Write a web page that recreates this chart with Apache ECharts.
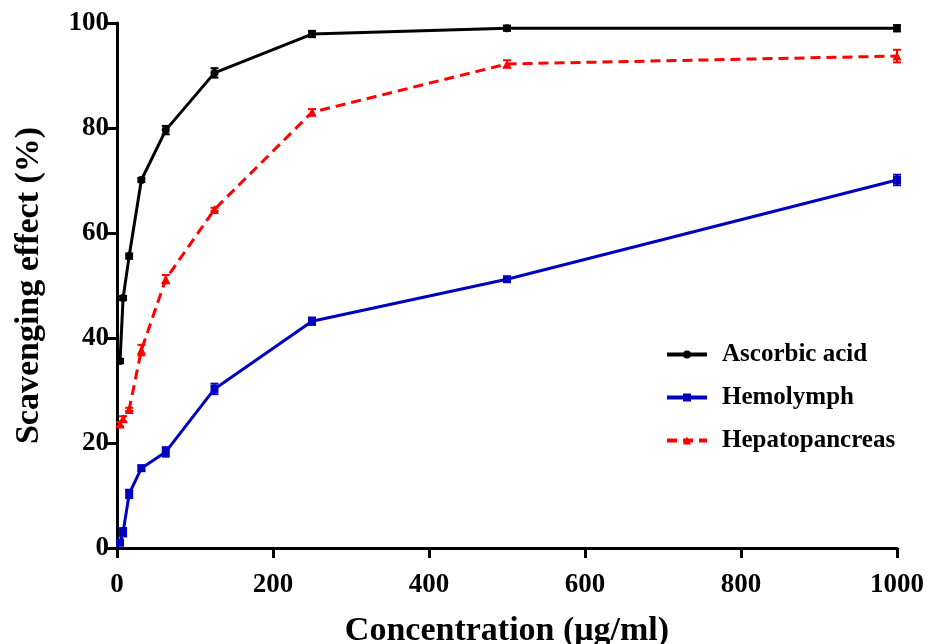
<!DOCTYPE html>
<html>
<head>
<meta charset="utf-8">
<script src="https://cdn.jsdelivr.net/npm/echarts@6/dist/echarts.min.js"></script>
<style>
  html, body { margin: 0; padding: 0; background: #fff; }
  #main { width: 927px; height: 644px; }
</style>
</head>
<body>
<div id="main"></div>
<script>
// concentrations (µg/ml)
var conc = [3.9, 7.8, 15.6, 31.25, 62.5, 125, 250, 500, 1000];
// scavenging effect (%) and SD
var ascorbic = [35.6, 47.6, 55.6, 70.1, 79.6, 90.5, 97.9, 99.0, 99.0];
var ascorbicErr = [0.4, 0.4, 0.5, 0.4, 0.8, 0.9, 0.6, 0.5, 0.6];
var hemolymph = [1.0, 3.0, 10.3, 15.2, 18.3, 30.3, 43.2, 51.2, 70.1];
var hemolymphErr = [0.4, 0.8, 0.8, 0.5, 0.9, 1.0, 0.7, 0.4, 1.0];
var hepato = [23.6, 24.6, 26.4, 37.7, 51.2, 64.5, 83.0, 92.2, 93.7];
var hepatoErr = [0.4, 0.5, 0.3, 1.0, 0.8, 0.3, 0.6, 0.7, 1.2];

var FONT = '"Liberation Serif", "DejaVu Serif", serif';

function pairs(ys) {
  return conc.map(function (x, i) { return [x, ys[i]]; });
}
function errData(ys, es) {
  return conc.map(function (x, i) { return [x, ys[i] - es[i], ys[i] + es[i]]; });
}
// error bar drawn through the axes
function errSeries(ys, es, color) {
  return {
    type: 'custom',
    silent: true,
    z: 3,
    data: errData(ys, es),
    renderItem: function (params, api) {
      var lo = api.coord([api.value(0), api.value(1)]);
      var hi = api.coord([api.value(0), api.value(2)]);
      var w = 4;
      var st = { stroke: color, lineWidth: 2 };
      return {
        type: 'group',
        children: [
          { type: 'line', shape: { x1: lo[0], y1: lo[1], x2: hi[0], y2: hi[1] }, style: st },
          { type: 'line', shape: { x1: lo[0] - w, y1: lo[1], x2: lo[0] + w, y2: lo[1] }, style: st },
          { type: 'line', shape: { x1: hi[0] - w, y1: hi[1], x2: hi[0] + w, y2: hi[1] }, style: st }
        ]
      };
    }
  };
}

var chart = echarts.init(document.getElementById('main'));

var option = {
  animation: false,
  backgroundColor: '#fff',
  grid: { left: 117, right: 30, top: 23, bottom: 96, outerBoundsMode: 'none' },
  legend: {
    orient: 'vertical',
    left: 660,
    top: 337,
    itemGap: 18,
    itemWidth: 40,
    itemHeight: 10,
    lineStyle: { width: 4 },
    textStyle: { fontFamily: FONT, fontWeight: 'bold', fontSize: 25, color: '#000', padding: [0, 0, 0, 10] },
    data: ['Ascorbic acid', 'Hemolymph', 'Hepatopancreas']
  },
  xAxis: {
    type: 'value',
    min: 0,
    max: 1000,
    interval: 200,
    name: 'Concentration (μg/ml)',
    nameLocation: 'middle',
    nameGap: 66,
    nameTextStyle: { fontFamily: FONT, fontWeight: 'bold', fontSize: 34, color: '#000' },
    axisLine: { lineStyle: { color: '#000', width: 3 } },
    axisTick: { length: 10, lineStyle: { color: '#000', width: 3 } },
    axisLabel: {
      fontFamily: FONT, fontWeight: 'bold', fontSize: 27, color: '#000', margin: 24,
      formatter: function (v) { return String(v); }
    },
    splitLine: { show: false }
  },
  yAxis: {
    type: 'value',
    min: 0,
    max: 100,
    interval: 20,
    name: 'Scavenging effect (%)',
    nameLocation: 'middle',
    nameGap: 71,
    nameTextStyle: { fontFamily: FONT, fontWeight: 'bold', fontSize: 34, color: '#000' },
    axisLine: { show: true, lineStyle: { color: '#000', width: 3 } },
    axisTick: { show: true, length: 10, lineStyle: { color: '#000', width: 3 } },
    axisLabel: { fontFamily: FONT, fontWeight: 'bold', fontSize: 27, color: '#000', margin: 8 },
    splitLine: { show: false }
  },
  series: [
    {
      name: 'Ascorbic acid',
      type: 'line',
      z: 4,
      data: pairs(ascorbic),
      symbol: 'circle',
      symbolSize: 8,
      color: '#000',
      lineStyle: { color: '#000', width: 3 },
      itemStyle: { color: '#000' }
    },
    {
      name: 'Hemolymph',
      type: 'line',
      z: 4,
      data: pairs(hemolymph),
      symbol: 'rect',
      symbolSize: 8,
      color: '#0000c0',
      lineStyle: { color: '#0000c0', width: 3 },
      itemStyle: { color: '#0000c0' }
    },
    {
      name: 'Hepatopancreas',
      type: 'line',
      z: 4,
      data: pairs(hepato),
      symbol: 'triangle',
      symbolSize: 9,
      color: '#ff0000',
      lineStyle: { color: '#ff0000', width: 3, type: [10, 6] },
      itemStyle: { color: '#ff0000' }
    },
    errSeries(ascorbic, ascorbicErr, '#000'),
    errSeries(hemolymph, hemolymphErr, '#0000c0'),
    errSeries(hepato, hepatoErr, '#ff0000')
  ]
};

chart.setOption(option);
</script>
</body>
</html>
